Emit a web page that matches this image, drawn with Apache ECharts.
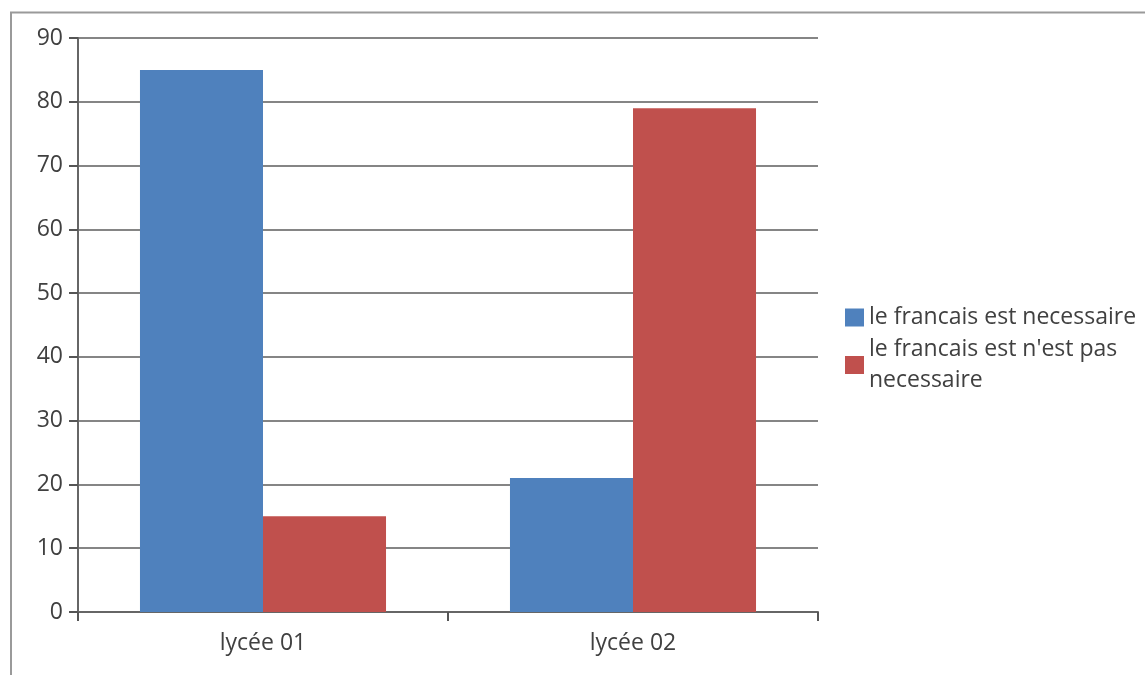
<!DOCTYPE html>
<html>
<head>
<meta charset="utf-8">
<script src="https://cdn.jsdelivr.net/npm/echarts@6/dist/echarts.min.js"></script>
<style>html,body{margin:0;padding:0;background:#fff}#c{width:1145px;height:675px}</style>
</head>
<body>
<div id="c"></div>
<script>
const categories = ["lycée 01", "lycée 02"];
const seriesNames = ["le francais est necessaire", "le francais est n'est pas necessaire"];
const necessaire = [85, 21];
const pasNecessaire = [15, 79];
const yTicks = [0, 10, 20, 30, 40, 50, 60, 70, 80, 90];

const chart = echarts.init(document.getElementById('c'), null, {renderer: 'canvas'});
const font = "'Open Sans', 'Noto Sans', sans-serif";
chart.setOption({
  animation: false,
  backgroundColor: '#fff',
  textStyle: {fontFamily: font},
  graphic: [
    {type: 'line', shape: {x1: 10, y1: 12.5, x2: 1145, y2: 12.5}, style: {stroke: '#9a9a9a', lineWidth: 2}},
    {type: 'line', shape: {x1: 11, y1: 12, x2: 11, y2: 675}, style: {stroke: '#9a9a9a', lineWidth: 2}}
  ],
  grid: {left: 78, right: 327, top: 38, bottom: 63, containLabel: false},
  legend: {
    orient: 'vertical',
    left: 840,
    top: 297,
    itemWidth: 19,
    itemHeight: 18,
    itemGap: 1,
    icon: 'rect',
    textStyle: {fontFamily: font, fontSize: 23, color: '#404040', lineHeight: 31},
    formatter: function (n) { return n === seriesNames[1] ? "le francais est n'est pas\nnecessaire" : n; },
    data: seriesNames
  },
  xAxis: {
    type: 'category',
    data: categories,
    axisLine: {lineStyle: {color: '#666', width: 2}},
    axisTick: {show: true, length: 9, lineStyle: {color: '#555', width: 2}},
    axisLabel: {fontFamily: font, fontSize: 23, color: '#404040', margin: 20},
    splitLine: {show: false}
  },
  yAxis: {
    type: 'value',
    min: yTicks[0],
    max: yTicks[yTicks.length - 1],
    interval: 10,
    axisLine: {show: true, lineStyle: {color: '#666', width: 2}},
    axisTick: {show: true, length: 9, lineStyle: {color: '#555', width: 2}},
    axisLabel: {fontFamily: font, fontSize: 23, color: '#404040', margin: 15},
    splitLine: {show: true, lineStyle: {color: '#858585', width: 2}}
  },
  series: [
    {name: seriesNames[0], type: 'bar', data: necessaire, barGap: '0%', barCategoryGap: '33.5%', itemStyle: {color: '#4F81BD'}},
    {name: seriesNames[1], type: 'bar', data: pasNecessaire, barGap: '0%', barCategoryGap: '33.5%', itemStyle: {color: '#C0504D'}}
  ]
});
</script>
</body>
</html>
